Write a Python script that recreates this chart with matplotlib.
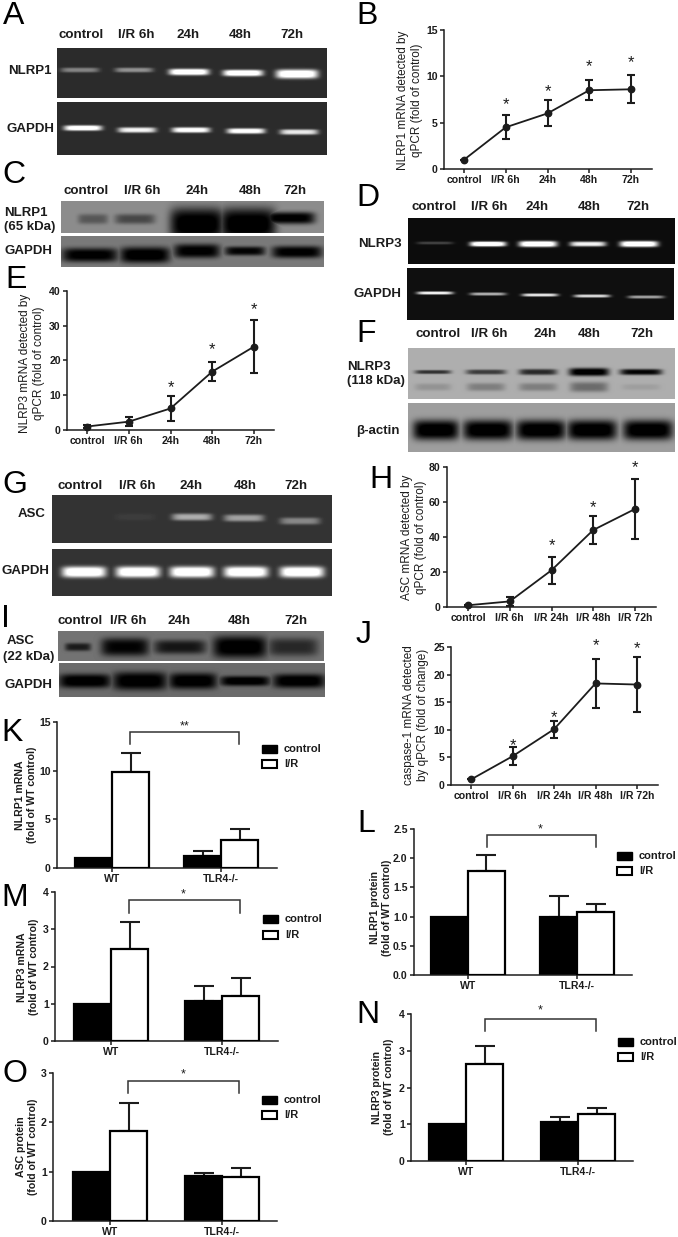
import numpy as np
import matplotlib
matplotlib.use("Agg")
import matplotlib.pyplot as plt
from matplotlib.patches import Rectangle

plt.rcParams["font.family"] = ["Liberation Sans", "DejaVu Sans"]

W, H = 678, 1237
INK = "#1c1c1c"

# qPCR time courses
xlabels_short = ["control", "I/R 6h", "24h", "48h", "72h"]
xlabels_long = ["control", "I/R 6h", "I/R 24h", "I/R 48h", "I/R 72h"]

nlrp1_mrna = [1, 4.5, 6, 8.5, 8.6]
nlrp1_err = [0, 1.3, 1.4, 1.1, 1.5]
nlrp1_star = [None, 7.3, 8.6, 11.4, 11.8]

nlrp3_mrna = [1, 2.4, 6.2, 16.8, 24]
nlrp3_err = [0.3, 1.3, 3.6, 2.8, 7.7]
nlrp3_star = [None, None, 12.9, 24, 35.3]

asc_mrna = [1, 3.2, 21, 44, 56]
asc_err = [0.3, 2.4, 7.8, 7.8, 17.3]
asc_star = [None, None, 36.8, 58.6, 81]

casp1_mrna = [1, 5.2, 10.1, 18.4, 18.2]
casp1_err = [0, 1.6, 1.5, 4.4, 5]
casp1_star = [None, 7.7, 12.7, 25.7, 25.2]

# WT vs TLR4-/- bars: [WT, TLR4-/-]
groups = ["WT", "TLR4-/-"]
k_ctrl, k_ctrl_err, k_ir, k_ir_err = [1, 1.25], [0, 0.45], [9.9, 2.85], [1.9, 1.15]
l_ctrl, l_ctrl_err, l_ir, l_ir_err = [1, 1.0], [0, 0.35], [1.78, 1.08], [0.27, 0.13]
m_ctrl, m_ctrl_err, m_ir, m_ir_err = [1, 1.07], [0, 0.4], [2.48, 1.2], [0.72, 0.48]
n_ctrl, n_ctrl_err, n_ir, n_ir_err = [1, 1.05], [0, 0.14], [2.65, 1.27], [0.49, 0.18]
o_ctrl, o_ctrl_err, o_ir, o_ir_err = [1, 0.91], [0, 0.06], [1.83, 0.9], [0.56, 0.18]

# gel band strengths per lane
a_nlrp1 = [0.35, 0.4, 1, 1, 1]
a_gapdh = [0.95, 0.8, 0.9, 0.9, 0.75]
c_nlrp1 = [0.35, 0.45, 1, 1, 0.95]
c_gapdh = [0.95, 1, 0.95, 0.9, 0.95]
d_nlrp3 = [0.18, 1, 1, 0.8, 1]
d_gapdh = [0.8, 0.55, 0.75, 0.7, 0.5]
f_nlrp3 = [0.65, 0.6, 0.7, 1, 0.9]
f_lower = [0.14, 0.25, 0.25, 0.35, 0.08]
f_actin = [1, 1, 1, 1, 1]
g_asc = [0, 0.04, 0.5, 0.45, 0.35]
g_gapdh = [1, 1, 1, 1, 1]
i_asc = [0.7, 0.9, 0.75, 1, 0.6]
i_gapdh = [1, 1, 1, 1, 1]

fig = plt.figure(figsize=(W / 100, H / 100), dpi=100, facecolor="white")
page = fig.add_axes([0, 0, 1, 1], zorder=5)
page.set_xlim(0, W)
page.set_ylim(H, 0)
page.axis("off")
page.patch.set_alpha(0)
back = fig.add_axes([0, 0, 1, 1], zorder=0)
back.set_xlim(0, W)
back.set_ylim(H, 0)
back.axis("off")


def gel(box, centers, strength, ys, hw, hh, bg, dark=False, extra=None):
    x0, y0, x1, y1 = box
    xx, yy = np.meshgrid(np.arange(x0, x1) + 0.5, np.arange(y0, y1) + 0.5)
    sig = np.zeros_like(xx, dtype=float)
    bands = [(centers, strength, ys, hw, hh)]
    if extra:
        bands.append(extra)
    for cs, st, yc, w, h in bands:
        for i, s in enumerate(st):
            d = np.abs((xx - cs[i]) / w[i]) ** 6 + np.abs((yy - yc[i]) / h[i]) ** 3
            sig = np.maximum(sig, s * np.exp(-d))
    if dark:
        img = bg * (1 - sig * 1.1)
    else:
        img = bg + (1 - bg) * np.clip(sig * 1.2, 0, 1)
    back.imshow(np.clip(img, 0, 1), extent=(x0, x1, y1, y0), cmap="gray", vmin=0, vmax=1,
                aspect="auto", interpolation="bilinear", zorder=1)
    back.set_xlim(0, W)
    back.set_ylim(H, 0)


def labels_row(y, xs, names, size=9.6):
    for x, name in zip(xs, names):
        page.text(x, y, name, ha="center", va="center", fontsize=size, fontweight="bold", color=INK)


def side(x, y, s, ha="right", size=9.5):
    page.text(x, y, s, ha=ha, va="center", fontsize=size, fontweight="bold", color=INK, linespacing=1.3)


def letter(x, y, s):
    page.text(x, y, s, ha="left", va="baseline", fontsize=23, color="black")


def make_axes(left, right, bottom, top, tick0, tick1, n, ylim, yticks, yfmt):
    ax = fig.add_axes([left / W, 1 - bottom / H, (right - left) / W, (bottom - top) / H], zorder=2)
    step = tick1 - tick0
    ax.set_xlim((left - tick0) / step, (right - tick0) / step)
    ax.set_ylim(*ylim)
    ax.set_yticks(yticks)
    ax.set_yticklabels([yfmt.format(v) for v in yticks])
    ax.set_xticks(range(n))
    ax.patch.set_alpha(0)
    for s in ["top", "right"]:
        ax.spines[s].set_visible(False)
    for s in ["left", "bottom"]:
        ax.spines[s].set_linewidth(1.1)
        ax.spines[s].set_color(INK)
    ax.tick_params(length=3, width=1.1, color=INK, pad=1.5, labelsize=7.6, labelcolor=INK)
    for t in ax.get_xticklabels() + ax.get_yticklabels():
        t.set_fontweight("bold")
    return ax


def line_panel(box, ticks, ylim, yticks, names, vals, errs, stars, ylabel, lab_xy):
    left, right, bottom, top = box
    ax = make_axes(left, right, bottom, top, ticks[0], ticks[1], len(vals), ylim, yticks, "{:g}")
    ax.set_xticklabels(names, fontweight="bold")
    xs = np.arange(len(vals))
    ax.errorbar(xs, vals, yerr=errs, color=INK, lw=1.3, elinewidth=1.5, capsize=2.6, capthick=1.5,
                marker="o", ms=4.6, clip_on=False, zorder=3)
    for x, st in zip(xs, stars):
        if st is not None:
            ax.annotate("*", (x, st), xytext=(0, -2), textcoords="offset points", ha="center", va="center",
                        fontsize=12, color=INK, annotation_clip=False)
    page.text(lab_xy[0], lab_xy[1], ylabel, rotation=90, ha="center", va="center", fontsize=8.5,
              color=INK, linespacing=1.3, multialignment="center")


def bar_panel(box, ticks, ylim, yticks, yfmt, ctrl, ctrl_err, ir, ir_err, ylabel, lab_xy, bracket, star, leg):
    left, right, bottom, top = box
    ax = make_axes(left, right, bottom, top, ticks[0], ticks[1], 2, ylim, yticks, yfmt)
    ax.set_xticklabels(groups, fontweight="bold")
    width = 37 / (ticks[1] - ticks[0])
    xs = np.arange(2)
    cap = 7
    for x, h, e, face in [(x, h, e, "black") for x, h, e in zip(xs - width / 2, ctrl, ctrl_err)] + \
            [(x, h, e, "white") for x, h, e in zip(xs + width / 2, ir, ir_err)]:
        ax.bar(x, h, width=width, color=face, edgecolor="black", lw=1.6, zorder=3 if face == "white" else 2)
        if e > 0:
            ax.errorbar(x, h, yerr=[[0], [e]], color=INK, elinewidth=1.5, capsize=cap, capthick=1.5, zorder=1)
    bx0, bx1, by0, by1 = bracket
    page.plot([bx0, bx0, bx1, bx1], [by1, by0, by0, by1], color="#333333", lw=1.1, solid_joinstyle="miter")
    page.text(star[0], star[1] + 2, star[2], ha="center", va="center", fontsize=9, color=INK)
    lx0, lx1, ly0, ly1 = leg
    page.add_patch(Rectangle((lx0, ly0), lx1 - lx0, 8, fc="black", ec="black", lw=1))
    page.add_patch(Rectangle((lx0, ly1), lx1 - lx0, 8, fc="white", ec="black", lw=1.5))
    page.text(lx1 + 7, ly0 + 4, "control", va="center", fontsize=8, fontweight="bold", color=INK)
    page.text(lx1 + 7, ly1 + 4, "I/R", va="center", fontsize=8, fontweight="bold", color=INK)
    page.text(lab_xy[0], lab_xy[1], ylabel, rotation=90, ha="center", va="center", fontsize=7.6,
              fontweight="bold", color=INK, linespacing=1.25, multialignment="center")


# A
labels_row(35, [81, 136, 188, 240, 292], xlabels_short)
gel((57, 48, 327, 98), [80, 134, 189, 243, 297], a_nlrp1, [70, 70, 72, 73, 74], [19, 19, 20, 20, 21], [2.4, 2.4, 3.2, 3.2, 4.5], 0.17)
gel((57, 102, 327, 155), [83, 137, 191, 246, 299], a_gapdh, [128, 130, 130, 131, 132], [19] * 5, [2.7] * 5, 0.17)
side(52, 71, "NLRP1")
side(54, 129, "GAPDH")
# C
labels_row(191, [86, 142, 197, 250, 295], xlabels_short)
gel((61, 201, 324, 233), [93, 135, 197, 248, 290], c_nlrp1, [219, 219, 224, 224, 218], [15, 20, 27, 28, 25], [5, 5, 16, 16, 6], 0.55, dark=True)
gel((61, 236, 324, 267), [90, 145, 197, 245, 297], c_gapdh, [255, 255, 251, 251, 252], [28, 25, 23, 20, 25], [7, 8, 7, 4.5, 6], 0.48, dark=True)
side(4, 220, "NLRP1\n(65 kDa)", ha="left")
side(52, 251, "GAPDH")
# D
labels_row(207, [434, 489, 537, 589, 638], xlabels_short)
gel((408, 218, 675, 264), [435, 488, 538, 588, 639], d_nlrp3, [243, 244, 244, 244, 244], [18, 18, 19, 18, 19], [1.5, 2.5, 3, 2.5, 3], 0.05)
gel((407, 268, 674, 320), [435, 488, 540, 592, 646], d_gapdh, [293, 294, 295, 296, 297], [18] * 5, [1.6] * 5, 0.06)
side(402, 244, "NLRP3")
side(401, 294, "GAPDH")
# F
labels_row(334, [438, 489, 545, 589, 642], xlabels_short)
gel((408, 348, 675, 399), [433, 486, 538, 589, 641], f_nlrp3, [372] * 5, [18, 20, 19, 20, 21], [2, 2.5, 3, 4, 3], 0.68, dark=True,
    extra=([433, 486, 538, 589, 641], f_lower, [387] * 5, [18, 19, 19, 19, 19], [3.5, 4, 4, 5, 3]))
gel((408, 403, 675, 452), [436, 488, 541, 592, 648], f_actin, [430] * 5, [23, 25, 25, 25, 25], [10, 10, 10, 10, 10], 0.62, dark=True)
side(347, 374, "NLRP3\n(118 kDa)", ha="left")
side(400, 431, "β-actin")
# G
labels_row(486, [80, 137, 191, 245, 296], xlabels_short)
gel((52, 495, 332, 543), [80, 135, 192, 244, 300], g_asc, [517, 517, 517, 518, 521], [20] * 5, [3.5] * 5, 0.2)
gel((52, 549, 332, 596), [84, 138, 192, 246, 302], g_gapdh, [572] * 5, [22] * 5, [5.5] * 5, 0.2)
side(46, 514, "ASC")
side(49, 571, "GAPDH")
# I
labels_row(621, [80, 128, 179, 239, 296], xlabels_short)
gel((58, 631, 324, 661), [78, 125, 180, 240, 293], i_asc, [647] * 5, [13, 24, 26, 27, 25], [4, 9, 7, 11, 9], 0.45, dark=True)
gel((59, 663, 325, 697), [85, 140, 193, 245, 299], i_gapdh, [681] * 5, [26, 27, 24, 25, 26], [7, 9, 8, 5, 7], 0.42, dark=True)
side(7, 641, "ASC", ha="left")
side(3, 657, "(22 kDa)", ha="left")
side(52, 685, "GAPDH")

# line panels
line_panel((444, 652, 169, 30), [464, 505.75], (0, 15), [0, 5, 10, 15], xlabels_short,
           nlrp1_mrna, nlrp1_err, nlrp1_star, "NLRP1 mRNA detected by\nqPCR (fold of control)", (410, 100))
line_panel((67, 274, 430, 291), [87, 128.75], (0, 40), [0, 10, 20, 30, 40], xlabels_short,
           nlrp3_mrna, nlrp3_err, nlrp3_star, "NLRP3 mRNA detected by\nqPCR (fold of control)", (32, 363))
line_panel((447, 656, 607, 467), [468, 509.75], (0, 80), [0, 20, 40, 60, 80], xlabels_long,
           asc_mrna, asc_err, asc_star, "ASC mRNA detected by\nqPCR (fold of control)", (414, 537))
line_panel((451, 658, 785, 647), [471, 512.5], (0, 25), [0, 5, 10, 15, 20, 25], xlabels_long,
           casp1_mrna, casp1_err, casp1_star, "caspase-1 mRNA detected\nby qPCR (fold of change)", (416, 715))

# bar panels
bar_panel((57, 277, 868, 722), [112, 221], (0, 15), [0, 5, 10, 15], "{:g}", k_ctrl, k_ctrl_err, k_ir, k_ir_err,
          "NLRP1 mRNA\n(fold of WT control)", (26, 795), (130, 239, 732, 744), (185, 724, "**"), (262, 277, 745, 760))
bar_panel((414, 632, 975, 829), [468, 577], (0, 2.5), [0, 0.5, 1, 1.5, 2, 2.5], "{:.1f}", l_ctrl, l_ctrl_err, l_ir, l_ir_err,
          "NLRP1 protein\n(fold of WT control)", (381, 908), (487, 596, 835, 847), (540, 827, "*"), (617, 632, 852, 867))
bar_panel((55, 278, 1041, 892), [111, 222], (0, 4), [0, 1, 2, 3, 4], "{:g}", m_ctrl, m_ctrl_err, m_ir, m_ir_err,
          "NLRP3 mRNA\n(fold of WT control)", (28, 967), (129, 240, 900, 913), (183, 892, "*"), (263, 278, 915, 931))
bar_panel((411, 633, 1161, 1014), [466, 578], (0, 4), [0, 1, 2, 3, 4], "{:g}", n_ctrl, n_ctrl_err, n_ir, n_ir_err,
          "NLRP3 protein\n(fold of WT control)", (383, 1087), (485, 596, 1019, 1031), (540, 1008, "*"), (618, 633, 1038, 1053))
bar_panel((53, 277, 1221, 1073), [110, 222], (0, 3), [0, 1, 2, 3], "{:g}", o_ctrl, o_ctrl_err, o_ir, o_ir_err,
          "ASC protein\n(fold of WT control)", (27, 1147), (128, 239, 1081, 1093), (183, 1072, "*"), (262, 277, 1096, 1111))

for x, y, s in [(3, 24, "A"), (356, 24, "B"), (2, 183, "C"), (356, 206, "D"), (5, 288, "E"), (356, 342, "F"),
                (2, 493, "G"), (369, 488, "H"), (1, 627, "I"), (356, 643, "J"), (1, 741, "K"), (357, 832, "L"),
                (1, 906, "M"), (356, 1023, "N"), (2, 1082, "O")]:
    letter(x, y, s)

fig.savefig("out.png", dpi=100)
